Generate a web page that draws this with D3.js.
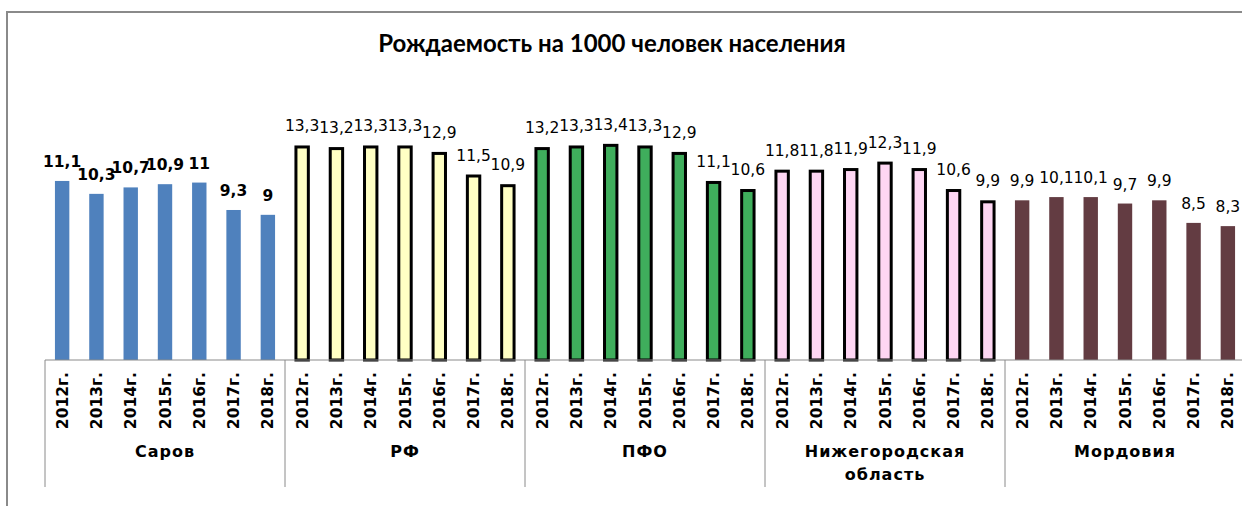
<!DOCTYPE html>
<html>
<head>
<meta charset="utf-8">
<script src="https://cdn.jsdelivr.net/npm/d3@7"></script>
<style>
  body { margin: 0; background: #fff; }
  svg { display: block; }
</style>
</head>
<body>
<div id="chart"></div>
<script>
const title = "Рождаемость на 1000 человек населения";
const years = ["2012г.", "2013г.", "2014г.", "2015г.", "2016г.", "2017г.", "2018г."];
const regions = ["Саров", "РФ", "ПФО", "Нижегородская область", "Мордовия"];
const sarov = [11.1, 10.3, 10.7, 10.9, 11, 9.3, 9];
const rf = [13.3, 13.2, 13.3, 13.3, 12.9, 11.5, 10.9];
const pfo = [13.2, 13.3, 13.4, 13.3, 12.9, 11.1, 10.6];
const nizhny = [11.8, 11.8, 11.9, 12.3, 11.9, 10.6, 9.9];
const mordovia = [9.9, 10.1, 10.1, 9.7, 9.9, 8.5, 8.3];

// per region look
const fills = ["#4f81bd", "#ffffc4", "#3fae5c", "#fed6f3", "#633c42"];
const outlined = [false, true, true, true, false];

const seriesByRegion = [sarov, rf, pfo, nizhny, mordovia];

const width = 1242, height = 506;
const baseY = 360;

// flatten into one row per bar
const rows = [];
regions.forEach((r, gi) => {
  years.forEach((y, yi) => {
    rows.push({ key: gi + "-" + yi, region: r, gi, year: y, value: seriesByRegion[gi][yi] });
  });
});

const svg = d3.select("#chart")
  .append("svg")
  .attr("width", width)
  .attr("height", height);

// outer chart frame (cropped on the right and bottom)
svg.append("path")
  .attr("d", `M7,${height} V12 H${width}`)
  .attr("fill", "none")
  .attr("stroke", "#8a8a8a")
  .attr("stroke-width", 2);

svg.append("text")
  .attr("x", 612)
  .attr("y", 52)
  .attr("text-anchor", "middle")
  .style("font-family", "Lato, 'Open Sans', sans-serif")
  .style("font-weight", "bold")
  .style("font-size", "24px")
  .text(title);

const x = d3.scaleBand()
  .domain(rows.map((d) => d.key))
  .range([45, 1245])
  .paddingInner(0.58)
  .paddingOuter(0.29);

const y = d3.scaleLinear().domain([0, 16]).range([baseY, baseY - 16 * 16.13]);

const groupX = d3.scaleBand().domain(d3.range(regions.length)).range([45, 1245]);

const bars = svg.append("g");

bars.selectAll("rect")
  .data(rows)
  .enter()
  .append("rect")
  .attr("x", (d) => x(d.key) + (outlined[d.gi] ? 1 : 0))
  .attr("width", (d) => x.bandwidth() - (outlined[d.gi] ? 2 : 0))
  .attr("y", (d) => y(d.value) + (outlined[d.gi] ? 1.5 : 0))
  .attr("height", (d) => baseY - y(d.value) - (outlined[d.gi] ? 1.5 : 0))
  .style("fill", (d) => fills[d.gi])
  .style("stroke", (d) => (outlined[d.gi] ? "#000" : "none"))
  .style("stroke-width", 3);

// value labels
svg.append("g")
  .selectAll("text")
  .data(rows)
  .enter()
  .append("text")
  .attr("x", (d) => x(d.key) + x.bandwidth() / 2)
  .attr("y", (d) => y(d.value) - 14)
  .attr("text-anchor", "middle")
  .style("font-family", "'DejaVu Sans', Verdana, sans-serif")
  .style("font-size", "15.5px")
  .style("font-weight", (d) => (d.gi === 0 ? "bold" : "normal"))
  .text((d) => String(d.value).replace(".", ","));

// category axis
const axis = svg.append("g");

axis.append("line")
  .attr("x1", 45)
  .attr("x2", width)
  .attr("y1", baseY)
  .attr("y2", baseY)
  .attr("stroke", "#8a8a8a")
  .attr("stroke-width", 1);

axis.selectAll(".divider")
  .data(d3.range(regions.length + 1))
  .enter()
  .append("line")
  .attr("class", "divider")
  .attr("x1", (i) => 45 + i * groupX.bandwidth())
  .attr("x2", (i) => 45 + i * groupX.bandwidth())
  .attr("y1", baseY)
  .attr("y2", 487)
  .attr("stroke", "#8a8a8a")
  .attr("stroke-width", 1);

axis.selectAll(".year")
  .data(rows)
  .enter()
  .append("text")
  .attr("class", "year")
  .attr("transform", (d) => `translate(${x(d.key) + x.bandwidth() / 2}, 372) rotate(-90)`)
  .attr("dy", "0.36em")
  .attr("text-anchor", "end")
  .style("font-family", "'DejaVu Sans', Verdana, sans-serif")
  .style("font-weight", "bold")
  .style("font-size", "15.5px")
  .text((d) => d.year);

const groupLabels = axis.selectAll(".group")
  .data(regions)
  .enter()
  .append("text")
  .attr("class", "group")
  .attr("text-anchor", "middle")
  .style("font-family", "'DejaVu Sans', Verdana, sans-serif")
  .style("font-weight", "bold")
  .style("font-size", "16px")
  .style("letter-spacing", "1px");

groupLabels.selectAll("tspan")
  .data((d, i) => d.split(" ").map((w) => ({ w, i })))
  .enter()
  .append("tspan")
  .attr("x", (d) => groupX(d.i) + groupX.bandwidth() / 2)
  .attr("y", (d, j) => 457 + j * 23)
  .text((d) => d.w);
</script>
</body>
</html>
